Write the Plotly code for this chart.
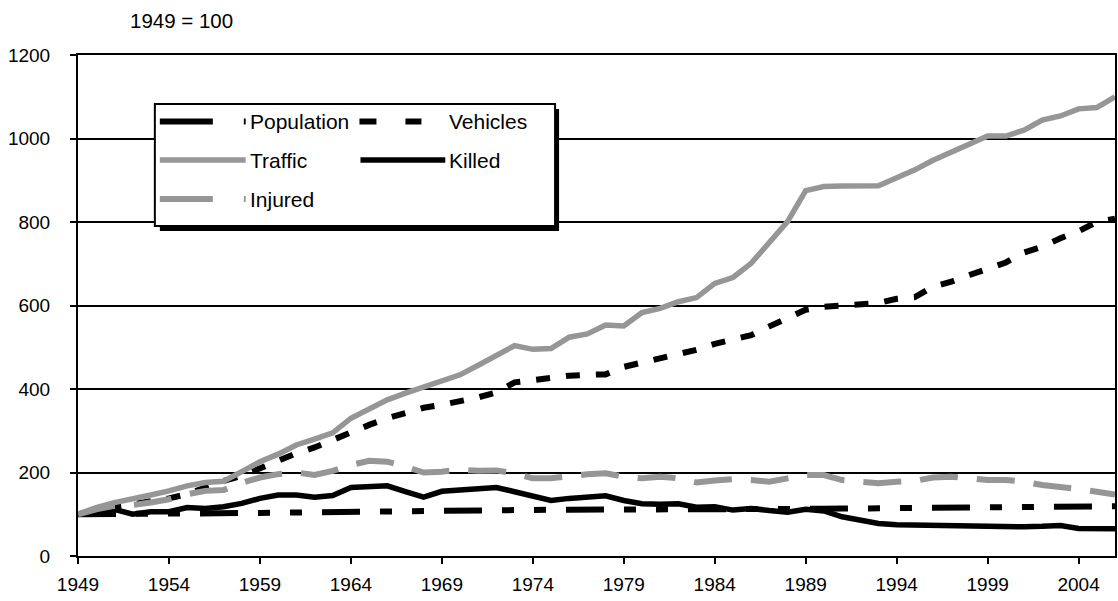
import plotly.graph_objects as go

years = list(range(1949, 2007))

population = [100.0, 100.0, 100.3, 100.5, 100.8, 101.0, 101.4, 101.8, 102.2, 102.6,
              103.1, 103.8, 104.5, 105.4, 106.1, 106.8, 107.5, 108.1, 108.7, 109.2,
              109.6, 110.0, 110.3, 110.6, 110.8, 110.9, 110.9, 110.9, 110.8, 110.8,
              111.0, 111.2, 111.2, 111.1, 111.2, 111.4, 111.7, 112.0, 112.2, 112.5,
              112.8, 113.1, 113.5, 113.8, 114.1, 114.4, 114.7, 115.0, 115.3, 115.6,
              115.9, 116.3, 116.7, 117.1, 117.5, 118.0, 118.6, 119.2]

vehicles = [100, 110, 118, 124, 130, 138, 148, 164, 180, 192,
            210, 226, 246, 260, 278, 298, 314, 330, 342, 355,
            362, 370, 380, 392, 416, 421, 428, 432, 434, 435,
            453, 463, 471, 484, 494, 508, 518, 529, 550, 570,
            590, 597, 600, 602, 606, 616, 620, 645, 657, 673,
            689, 703, 727, 741, 761, 778, 800, 808]

traffic = [100, 116, 128, 136, 146, 156, 168, 176, 179, 202,
           226, 244, 266, 280, 295, 330, 352, 374, 390, 405,
           417, 434, 457, 479, 504, 495, 497, 524, 532, 553,
           551, 583, 593, 609, 619, 653, 667, 701, 749, 801,
           875, 885, 886, 887, 887, 906, 925, 948, 968, 986,
           1006, 1006, 1020, 1044, 1054, 1071, 1074, 1100]

killed = [100, 106, 112, 100, 106, 106, 116, 114, 118, 126,
          138, 146, 146, 141, 145, 164, 167, 168, 154, 141,
          155, 159, 163, 164, 154, 142, 133, 138, 140, 144,
          133, 125, 124, 125, 117, 118, 110, 114, 109, 105,
          112, 108, 94, 86, 78, 75, 74, 73, 72, 70,
          69, 70, 70, 71, 73, 66, 65, 65]

injured = [100, 112, 120, 122, 128, 136, 148, 156, 158, 175,
           188, 196, 200, 194, 204, 218, 228, 226, 214, 200,
           202, 207, 204, 205, 198, 186, 186, 192, 196, 198,
           190, 186, 190, 186, 176, 181, 184, 182, 178, 186,
           194, 194, 182, 178, 174, 178, 180, 188, 190, 186,
           182, 182, 178, 170, 166, 160, 154, 147]

series_names = ["Population", "Vehicles", "Traffic", "Killed", "Injured"]
y_ticks = [0, 200, 400, 600, 800, 1000, 1200]
x_ticks = list(range(1949, 2005, 5))
subtitle = "1949 = 100"

GRAY = "#969696"
BLACK = "#000000"
FONT = "Liberation Sans, Arial, sans-serif"

styles = {
    "Population": dict(color=BLACK, width=6, dash="38px,20px,12px,20px,12px,20px"),
    "Vehicles": dict(color=BLACK, width=6, dash="14px,16px"),
    "Traffic": dict(color=GRAY, width=5.5, dash="solid"),
    "Killed": dict(color=BLACK, width=5.5, dash="solid"),
    "Injured": dict(color=GRAY, width=6, dash="38px,19px"),
}
legend_dash = {
    "Population": "53px,31px,3px,20px",
    "Vehicles": "17px,29px,16px,40px",
    "Traffic": "solid",
    "Killed": "solid",
    "Injured": "53px,31px,3px,20px",
}
data = {"Population": population, "Vehicles": vehicles, "Traffic": traffic,
        "Killed": killed, "Injured": injured}

fig = go.Figure()
for name in series_names:
    fig.add_trace(go.Scatter(x=years, y=data[name], mode="lines", name=name,
                             line=dict(**styles[name]), showlegend=False))

W, H = 1118, 601
ML, MR, MT, MB = 78, 1, 55, 45
PW, PH = W - ML - MR, H - MT - MB


def px(x):
    return (x - ML) / PW


def py(y):
    return (H - MB - y) / PH


shapes = []
annotations = []
# legend box with shadow
shapes.append(dict(type="rect", xref="paper", yref="paper", x0=px(160), x1=px(560),
                   y0=py(231), y1=py(109), fillcolor=BLACK, line=dict(width=0), layer="above"))
shapes.append(dict(type="rect", xref="paper", yref="paper", x0=px(155), x1=px(556),
                   y0=py(226), y1=py(104), fillcolor="white",
                   line=dict(color=BLACK, width=2), layer="above"))
legend_pos = {
    "Population": (160, 246, 121.5),
    "Vehicles": (360, 446, 121.5),
    "Traffic": (160, 246, 160),
    "Killed": (361, 446, 160),
    "Injured": (160, 246, 199),
}
for name in series_names:
    x0, x1, yy = legend_pos[name]
    st = styles[name]
    shapes.append(dict(type="line", xref="paper", yref="paper", x0=px(x0), x1=px(x1),
                       y0=py(yy), y1=py(yy), layer="above",
                       line=dict(color=st["color"], width=st["width"], dash=legend_dash[name])))
    annotations.append(dict(xref="paper", yref="paper", x=px(x1 + 2), y=py(yy),
                            text=name, showarrow=False, xanchor="left", yanchor="middle",
                            font=dict(family=FONT, size=21, color=BLACK)))

annotations.append(dict(xref="paper", yref="paper", x=px(128), y=py(21), text=subtitle,
                        showarrow=False, xanchor="left", yanchor="middle",
                        font=dict(family=FONT, size=20.5, color=BLACK)))

fig.update_layout(
    width=W, height=H,
    margin=dict(l=ML, r=MR, t=MT, b=MB, pad=0),
    paper_bgcolor="white", plot_bgcolor="white",
    font=dict(family=FONT, size=19, color=BLACK),
    shapes=shapes, annotations=annotations,
    showlegend=False,
    xaxis=dict(range=[1949, 2006], tickmode="array", tickvals=x_ticks,
               ticktext=[str(t) for t in x_ticks], showgrid=False, zeroline=False,
               showline=True, linecolor=BLACK, linewidth=2, mirror=True,
               ticks="outside", ticklen=6, tickwidth=1.5, tickcolor=BLACK,
               ticklabelstandoff=4, tickfont=dict(family=FONT, size=19)),
    yaxis=dict(range=[0, 1200], tickmode="array", tickvals=y_ticks,
               ticktext=[str(t) for t in y_ticks], showgrid=True, gridcolor=BLACK,
               gridwidth=1.5, zeroline=False,
               showline=True, linecolor=BLACK, linewidth=2, mirror=True,
               ticks="outside", ticklen=6, tickwidth=1.5, tickcolor=BLACK,
               ticklabelstandoff=16, tickfont=dict(family=FONT, size=19)),
)

fig.write_html("out.html", config={"displayModeBar": False},
               post_script="document.body.style.margin='0';document.body.style.padding='0';")
